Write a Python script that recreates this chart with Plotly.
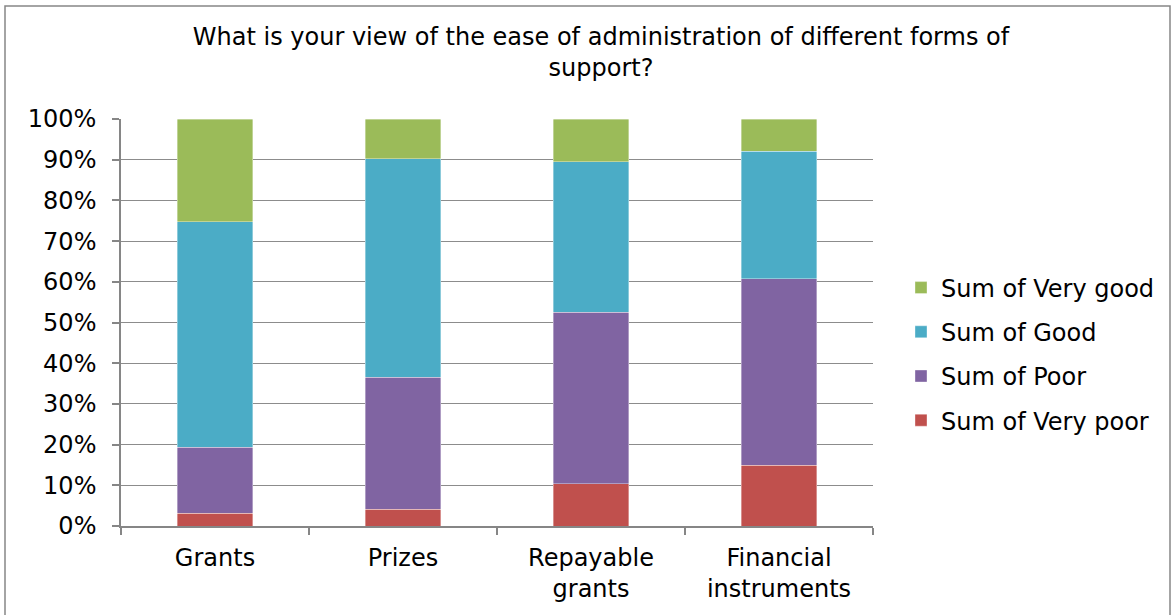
import plotly.graph_objects as go

categories = ["Grants", "Prizes", "Repayable<br>grants", "Financial<br>instruments"]
very_poor = [3.1, 4.1, 10.4, 14.9]
poor = [16.3, 32.5, 42.1, 45.8]
good = [55.4, 53.6, 37.0, 31.4]
very_good = [25.2, 9.8, 10.5, 7.9]
series_names = ["Sum of Very poor", "Sum of Poor", "Sum of Good", "Sum of Very good"]
series_values = [very_poor, poor, good, very_good]
colors = ["#C0504D", "#8064A2", "#4BACC6", "#9BBB59"]
y_ticks = list(range(0, 101, 10))
y_labels = [f"{v}%" for v in y_ticks]

FONT = "DejaVu Sans, Verdana, sans-serif"
FS = 24

fig = go.Figure()
for i, (name, vals, col) in enumerate(zip(series_names, series_values, colors)):
    fig.add_trace(go.Bar(
        x=categories, y=vals, name=name, legendgroup=name, legendrank=10 - i,
        marker=dict(color=col, line=dict(color="rgba(255,255,255,0.6)", width=0.6)),
    ))

W, H = 1173, 615
L, T = 121, 119
pw, ph = 752, 407
R, B = W - L - pw, H - T - ph


def px_x(p):
    return (p - L) / pw


def px_y(p):
    return (T + ph - p) / ph


fig.update_layout(
    width=W, height=H,
    barmode="stack", bargap=0.6,
    margin=dict(l=L, r=R, t=T, b=B),
    paper_bgcolor="white", plot_bgcolor="white",
    font=dict(family=FONT, size=FS, color="#000000"),
    title=dict(
        text="What is your view of the ease of administration of different forms of<br>support?",
        x=601 / W, xanchor="center", xref="container",
        y=1 - 45 / H, yanchor="top", yref="container",
        font=dict(family=FONT, size=FS, color="#000000"),
    ),
    legend=dict(
        x=px_x(901), xanchor="left", y=px_y(354), yanchor="middle",
        traceorder="grouped", tracegroupgap=10,
        font=dict(family=FONT, size=FS), itemwidth=30,
        bgcolor="rgba(0,0,0,0)",
    ),
    xaxis=dict(
        showline=True, linecolor="#868686", linewidth=1.5,
        ticks="outside", tickson="boundaries", ticklen=7, tickcolor="#868686", tickwidth=1.5,
        showgrid=False, tickfont=dict(family=FONT, size=FS), ticklabelstandoff=9,
    ),
    yaxis=dict(
        range=[0, 100], tickvals=y_ticks, ticktext=y_labels,
        showline=True, linecolor="#868686", linewidth=1.5,
        ticks="outside", ticklen=7, tickcolor="#868686", tickwidth=1.5,
        showgrid=True, gridcolor="#8C8C8C", gridwidth=1.3,
        zeroline=False, ticklabelstandoff=11,
        tickfont=dict(family=FONT, size=FS),
    ),
    shapes=[dict(
        type="rect", xref="paper", yref="paper",
        x0=px_x(5), x1=px_x(1170),
        y0=px_y(650), y1=px_y(6),
        line=dict(color="#868686", width=1.5), fillcolor="rgba(0,0,0,0)", layer="below",
    )],
)

fig.write_html("out.html", config={"displayModeBar": False},
               post_script="document.body.style.margin='0';")
